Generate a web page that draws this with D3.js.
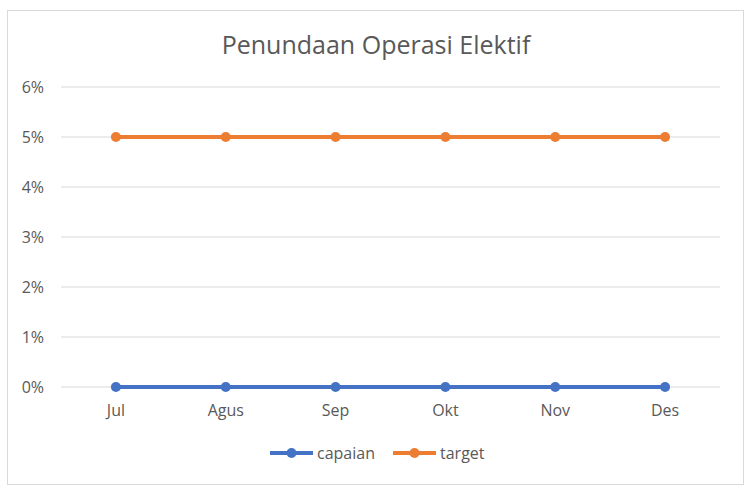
<!DOCTYPE html>
<html>
<head>
<meta charset="utf-8">
<script src="https://cdn.jsdelivr.net/npm/d3@7"></script>
<style>
  body { margin: 0; background: #fff; }
  text { font-family: "Open Sans", "Noto Sans", sans-serif; fill: #595959; }
</style>
</head>
<body>
<div id="chart"></div>
<script>
var months = ["Jul", "Agus", "Sep", "Okt", "Nov", "Des"];
var capaian = [0, 0, 0, 0, 0, 0];
var target = [0.05, 0.05, 0.05, 0.05, 0.05, 0.05];
var yTicks = [0, 0.01, 0.02, 0.03, 0.04, 0.05, 0.06];

var svgWidth = 753, svgHeight = 492;
var margin = { top: 87, right: 33, bottom: 105, left: 61 };
var width = svgWidth - margin.left - margin.right;
var height = svgHeight - margin.top - margin.bottom;

var svg = d3.select("#chart").append("svg")
  .attr("width", svgWidth)
  .attr("height", svgHeight);

// chart border
svg.append("rect")
  .attr("x", 7.5).attr("y", 10.5)
  .attr("width", 736).attr("height", 474)
  .attr("fill", "#fff")
  .attr("stroke", "#d9d9d9");

svg.append("text")
  .attr("x", 376).attr("y", 54)
  .attr("text-anchor", "middle")
  .attr("font-size", 25)
  .text("Penundaan Operasi Elektif");

var g = svg.append("g").attr("transform", `translate(${margin.left}, ${margin.top})`);

var x = d3.scaleBand().domain(months).range([0, width]);
var y = d3.scaleLinear().domain([0, 0.06]).range([height, 0]);

// gridlines
g.selectAll("line.grid").data(yTicks).enter().append("line")
  .attr("class", "grid")
  .attr("x1", 0).attr("x2", width)
  .attr("y1", d => y(d)).attr("y2", d => y(d))
  .attr("stroke", "#d9d9d9").attr("stroke-width", 1);

var leftAxis = d3.axisLeft(y).tickValues(yTicks).tickFormat(d3.format(".0%")).tickSize(0).tickPadding(17);
var ya = g.append("g").call(leftAxis);
ya.select(".domain").remove();
ya.selectAll("text").attr("font-size", 16).attr("fill", "#595959").style("font-family", "'Open Sans', sans-serif");

var bottomAxis = d3.axisBottom(x).tickSize(0).tickPadding(18);
var xa = g.append("g").attr("transform", `translate(0, ${height})`).call(bottomAxis);
xa.select(".domain").remove();
xa.selectAll("text").attr("font-size", 16).attr("fill", "#595959").style("font-family", "'Open Sans', sans-serif");

var series = [
  { name: "capaian", values: capaian, color: "#4472C4" },
  { name: "target", values: target, color: "#ED7D31" }
];

var line = d3.line()
  .x((d, i) => x(months[i]) + x.bandwidth() / 2)
  .y(d => y(d));

series.forEach(function(s) {
  g.append("path")
    .datum(s.values)
    .attr("d", line)
    .attr("fill", "none")
    .attr("stroke", s.color)
    .attr("stroke-width", 4)
    .attr("stroke-linecap", "round");
  g.selectAll(null).data(s.values).enter().append("circle")
    .attr("cx", (d, i) => x(months[i]) + x.bandwidth() / 2)
    .attr("cy", d => y(d))
    .attr("r", 5)
    .attr("fill", s.color);
});

// legend
var legendX = [270, 393];
var legend = svg.selectAll("g.legend").data(series).enter().append("g")
  .attr("class", "legend")
  .attr("transform", (d, i) => `translate(${legendX[i]}, 453)`);
legend.append("line")
  .attr("x1", 0).attr("x2", 43)
  .attr("stroke", d => d.color).attr("stroke-width", 4);
legend.append("circle")
  .attr("cx", 21.5).attr("r", 5)
  .attr("fill", d => d.color);
legend.append("text")
  .attr("x", 47).attr("y", 6)
  .attr("font-size", 16)
  .text(d => d.name);
</script>
</body>
</html>
